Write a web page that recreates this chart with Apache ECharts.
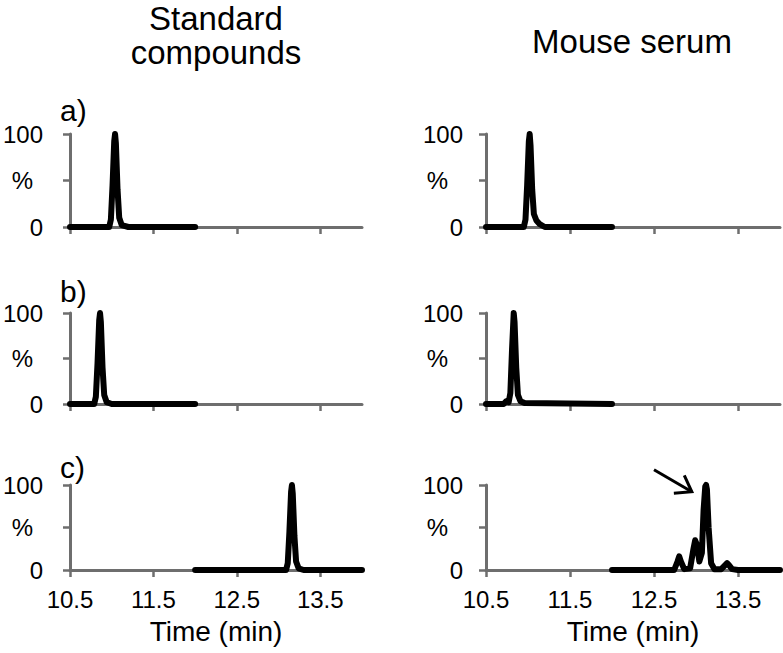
<!DOCTYPE html>
<html>
<head>
<meta charset="utf-8">
<script src="https://cdn.jsdelivr.net/npm/echarts@6/dist/echarts.min.js"></script>
<style>
html,body{margin:0;padding:0;background:#fff;}
#chart{width:783px;height:653px;}
</style>
</head>
<body>
<div id="chart"></div>
<script>
// ---- data (time in min, intensity in %) ----
const xTickValues = [10.5, 11.5, 12.5, 13.5];
const yTickValues = [0, 50, 100];
const yLabelValues = [0, 100];

const columnTitles = ['Standard\ncompounds', 'Mouse serum'];
const rowLabels = ['a)', 'b)', 'c)'];
const xAxisTitle = 'Time (min)';
const yAxisTitle = '%';

// Standard compounds
const stdA_time = [10.5, 10.97, 10.99, 11.01, 11.03, 11.04, 11.05, 11.07, 11.09, 11.12, 11.2, 12.0];
const stdA_int  = [0,    0,     8,     45,    92,    100,   90,    40,    10,    2,     0,    0];
const stdB_time = [10.5, 10.79, 10.81, 10.83, 10.85, 10.86, 10.87, 10.89, 10.91, 10.94, 11.0, 12.0];
const stdB_int  = [0,    0,     8,     45,    92,    100,   90,    40,    10,    2,     0,    0];
const stdC_time = [12.0, 13.09, 13.11, 13.13, 13.15, 13.16, 13.17, 13.19, 13.21, 13.24, 13.3, 14.0];
const stdC_int  = [0,    0,     8,     45,    92,    100,   90,    40,    10,    2,     0,    0];

// Mouse serum
const serA_time = [10.5, 10.95, 10.97, 10.99, 11.01, 11.02, 11.03, 11.05, 11.07, 11.1, 11.14, 11.2, 12.0];
const serA_int  = [0,    0,     8,     45,    92,    100,   88,    40,    14,    7,     3,     0,    0];
const serB_time = [10.5, 10.71, 10.74, 10.77, 10.79, 10.81, 10.83, 10.84, 10.86, 10.88, 10.91, 10.96, 12.0];
const serB_int  = [0,    0,     3,     2,     12,    60,    100,   90,    40,    10,    3,     1,    0];
const serC_time = [12.0, 12.74, 12.78, 12.8, 12.82, 12.86, 12.93, 12.97, 12.99, 13.01, 13.04, 13.07, 13.09, 13.11, 13.12, 13.13, 13.15, 13.18, 13.22, 13.3, 13.35, 13.37, 13.39, 13.43, 13.5, 14.0];
const serC_int  = [0,    0,     10,    16,   10,    1,     2,     25,    35,    30,    10,    20,    70,    98,    100,   95,    50,    8,     1,     1,    6,     8,     6,     1,     0,    0];

// arrow annotation (data coords in panel c, mouse serum)
const arrowFrom = [12.5, 118];
const arrowTo   = [12.95, 92];

const traces = [
  [stdA_time, stdA_int], [serA_time, serA_int],
  [stdB_time, stdB_int], [serB_time, serB_int],
  [stdC_time, stdC_int], [serC_time, serC_int]
];

// ---- layout ----
const colLeft = [70, 486];
const colWidth = [292, 294];
const rowTop = [134, 313, 485];
const rowHeight = [93, 91, 85];
const axisColor = '#6e6e6e';
const FONT = '"Liberation Sans", Arial, Helvetica, sans-serif';

const chart = echarts.init(document.getElementById('chart'), null, {renderer: 'svg'});

const grid = [], xAxis = [], yAxis = [], series = [];
for (let r = 0; r < 3; r++) {
  for (let c = 0; c < 2; c++) {
    const i = r * 2 + c;
    grid.push({left: colLeft[c], top: rowTop[r], width: colWidth[c], height: rowHeight[r],
               containLabel: false, outerBoundsMode: 'none'});
    xAxis.push({
      type: 'value', gridIndex: i, min: 10.5, max: 14.0,
      axisLine: {show: true, lineStyle: {color: axisColor, width: 3}},
      axisTick: {show: true, customValues: xTickValues, length: 7, lineStyle: {color: axisColor, width: 2.5}},
      axisLabel: {show: r === 2, customValues: xTickValues, fontSize: 24, color: '#000', fontFamily: FONT, margin: 17,
                  formatter: v => v.toFixed(1)},
      splitLine: {show: false},
      name: r === 2 ? xAxisTitle : '',
      nameLocation: 'middle', nameGap: 47, nameMoveOverlap: false,
      nameTextStyle: {fontSize: 28, color: '#000', fontFamily: FONT}
    });
    yAxis.push({
      type: 'value', gridIndex: i, min: 0, max: 100,
      axisLine: {show: true, lineStyle: {color: axisColor, width: 3}},
      axisTick: {show: true, customValues: yTickValues, length: 7, lineStyle: {color: axisColor, width: 2.5}},
      axisLabel: {show: true, customValues: yLabelValues, fontSize: 24, color: '#000', fontFamily: FONT, margin: c === 0 ? 27 : 23},
      splitLine: {show: false},
      name: yAxisTitle, nameLocation: 'middle', nameRotate: 0, nameGap: c === 0 ? 37 : 38, nameMoveOverlap: false,
      nameTextStyle: {fontSize: 24, color: '#000', fontFamily: FONT, align: 'right', verticalAlign: 'middle', padding: [10, 0, 0, 0]}
    });
    const [t, v] = traces[i];
    series.push({
      type: 'line', xAxisIndex: i, yAxisIndex: i,
      data: t.map((x, k) => [x, v[k]]),
      showSymbol: false, symbol: 'none', clip: false, silent: true,
      lineStyle: {color: '#000', width: 6, cap: 'round', join: 'round'},
      animation: false
    });
  }
}

const graphic = [
  {type: 'text', x: 216, y: 1, style: {text: columnTitles[0], fill: '#000', font: '33px ' + FONT, fontSize: 33, fontFamily: FONT,
    lineHeight: 34, align: 'center', textAlign: 'center', verticalAlign: 'top', textVerticalAlign: 'top'}},
  {type: 'text', x: 632, y: 24, style: {text: columnTitles[1], fill: '#000', font: '33px ' + FONT, fontSize: 33, fontFamily: FONT,
    lineHeight: 34, align: 'center', textAlign: 'center', verticalAlign: 'top', textVerticalAlign: 'top'}}
];
const labelY = [110, 291, 467];
rowLabels.forEach((lab, r) => {
  graphic.push({type: 'text', x: 60, y: labelY[r], style: {text: lab, fill: '#000', font: '30px ' + FONT, fontSize: 30, fontFamily: FONT,
    align: 'left', textAlign: 'left', verticalAlign: 'middle', textVerticalAlign: 'middle'}});
});

chart.setOption({
  animation: false,
  backgroundColor: '#fff',
  grid, xAxis, yAxis, series, graphic
});

// arrow drawn from data coordinates of panel c (serum)
const p0 = chart.convertToPixel({gridIndex: 5}, arrowFrom);
const p1 = chart.convertToPixel({gridIndex: 5}, arrowTo);
const dx = p1[0] - p0[0], dy = p1[1] - p0[1];
const len = Math.hypot(dx, dy);
const ux = -dx / len, uy = -dy / len;
const th = 35 * Math.PI / 180, L = 18;
const a1 = [p1[0] + L * (ux * Math.cos(th) - uy * Math.sin(th)), p1[1] + L * (ux * Math.sin(th) + uy * Math.cos(th))];
const a2 = [p1[0] + L * (ux * Math.cos(th) + uy * Math.sin(th)), p1[1] + L * (-ux * Math.sin(th) + uy * Math.cos(th))];
graphic.push(
  {type: 'line', shape: {x1: p0[0], y1: p0[1], x2: p1[0], y2: p1[1]}, style: {stroke: '#000', lineWidth: 3}},
  {type: 'polyline', shape: {points: [a1, p1, a2]}, style: {stroke: '#000', lineWidth: 3, fill: null}}
);
chart.setOption({graphic});
</script>
</body>
</html>
